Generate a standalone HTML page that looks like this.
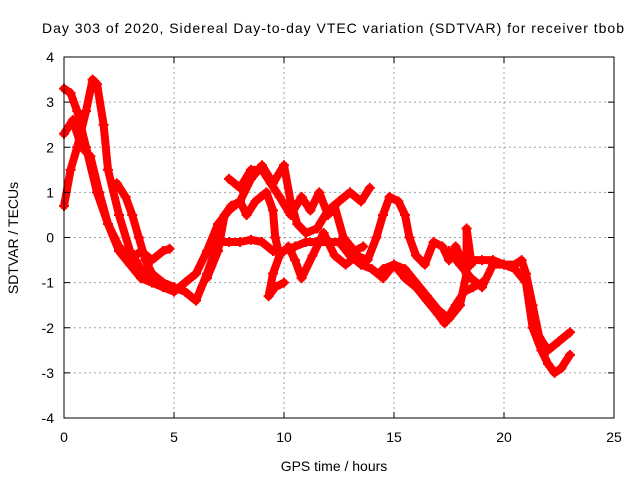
<!DOCTYPE html>
<html><head><meta charset="utf-8"><style>
body{margin:0;background:#fff}
svg{font-family:"Liberation Sans",sans-serif;display:block}
</style></head><body>
<svg id="chart" width="640" height="480">
<text x="42" y="33" font-size="14" textLength="582" lengthAdjust="spacing">Day 303 of 2020, Sidereal Day-to-day VTEC variation (SDTVAR) for receiver tbob</text>
<text x="334" y="471" font-size="14" text-anchor="middle">GPS time / hours</text>
<text transform="translate(18,238) rotate(-90)" font-size="14" text-anchor="middle">SDTVAR / TECUs</text>
<g id="grid"></g><g id="marks"></g><g id="axes"></g>
</svg>
<script>
const xTicks=[0,5,10,15,20,25];
const yTicks=[-4,-3,-2,-1,0,1,2,3,4];
const t1=[0,0.3,0.6,1.0,1.5,2.0,2.5,3.0,3.5,4.0,4.5,5.0,5.5,6.0,6.5,7.0,7.5,8.0,8.5,9.0,9.5,10.0,10.3,10.6,11.0,11.5,12.0,12.5,13.0,13.5,13.9];
const v1=[3.3,3.2,2.8,2.0,1.0,0.3,-0.3,-0.6,-0.9,-1.0,-1.1,-1.2,-1.0,-0.8,-0.3,0.3,0.6,0.8,1.3,1.6,1.2,1.6,0.8,0.3,0.1,0.2,0.6,0.8,1.0,0.8,1.1];
const t2=[0,0.3,0.6,1.0,1.3,1.5,1.8,2.0,2.5,3.0,3.5,4.0,4.5,5.0,5.5,6.0,6.5,7.0,7.5,8.0,8.5,9.0,9.5,10.0,10.5,11.0,11.5,12.0,12.5,13.0,13.5,14.0,14.5,15.0,15.5,16.0,16.5,17.0,17.3,17.8,18.2,18.6,19.0];
const v2=[0.7,1.5,2.0,2.8,3.5,3.4,2.5,1.5,0.5,-0.3,-0.7,-0.9,-1.0,-1.1,-1.2,-1.4,-0.8,-0.1,-0.1,-0.1,-0.05,-0.1,-0.3,-0.3,-0.2,-0.1,-0.1,-0.1,-0.1,-0.4,-0.6,-0.7,-0.9,-0.6,-0.9,-1.1,-1.4,-1.7,-1.9,-1.5,-1.2,-1.1,-1.0];
const t3=[0,0.4,0.8,1.2,1.6,2.0,2.5,3.0,3.5,4.0,4.5,4.8];
const v3=[2.3,2.6,2.0,1.8,1.0,0.3,-0.2,-0.5,-0.3,-0.5,-0.3,-0.25];
const t4=[2.4,2.8,3.1,3.4,3.7,4.0,4.5];
const v4=[1.2,0.9,0.5,0.0,-0.5,-0.8,-1.0];
const t5=[6.5,7.0,7.3,7.6,8.0,8.3,8.7,9.2,9.5,9.6,9.8,9.5,9.3,9.6,10.0];
const v5=[-0.9,-0.3,0.5,0.7,0.8,0.5,0.8,1.0,0.6,0.0,-0.4,-0.8,-1.3,-1.1,-1.0];
const t6=[7.5,8.0,8.5,9.0,9.4,9.8,10.3,10.8,11.2,11.6,12.0,12.3,12.7,13.2,13.6];
const v6=[1.3,1.1,1.5,1.5,1.2,0.9,0.5,0.9,0.6,1.0,0.5,0.7,0.0,-0.3,-0.2];
const t7=[10.2,10.5,10.8,11.3,11.8,12.3,12.8,13.3,13.8,14.2,14.5,14.8,15.2,15.5,15.7,16.0,16.4,16.8,17.2,17.5,17.8,18.2,18.5];
const v7=[-0.2,-0.5,-0.9,-0.4,0.1,-0.4,-0.6,-0.4,-0.5,0.0,0.5,0.9,0.8,0.5,0.0,-0.4,-0.6,-0.1,-0.2,-0.5,-0.2,-0.6,-0.6];
const t8=[14.5,15.0,15.5,16.0,16.5,17.0,17.5,18.0,18.3,18.3,18.5,19.0,19.5,20.0,20.5,20.8,21.0,21.3,21.6,22.0,22.5,23.0];
const v8=[-0.7,-0.6,-0.7,-1.0,-1.3,-1.6,-1.8,-1.5,-0.8,0.2,-0.5,-0.5,-0.5,-0.6,-0.6,-0.5,-0.8,-1.5,-2.2,-2.5,-2.3,-2.1];
const t9=[17.5,18.0,18.5,19.0,19.5,20.0,20.5,21.0,21.3,21.7,22.0,22.3,22.6,23.0];
const v9=[-0.3,-0.6,-0.9,-1.1,-0.6,-0.6,-0.7,-1.0,-2.0,-2.5,-2.8,-3.0,-2.9,-2.6];
const tracks=[[t1,v1],[t2,v2],[t3,v3],[t4,v4],[t5,v5],[t6,v6],[t7,v7],[t8,v8],[t9,v9]];
const X0=64,X1=614,Y0=418,Y1=57;
const xs=t=>X0+(t-0)/25*(X1-X0);
const ys=v=>Y0-(v+4)/8*(Y0-Y1);
const NS="http://www.w3.org/2000/svg";
function mk(tag,parent,attrs){const e=document.createElementNS(NS,tag);for(const k in attrs)e.setAttribute(k,attrs[k]);parent.appendChild(e);return e;}
const grid=document.getElementById('grid'),marks=document.getElementById('marks'),axes=document.getElementById('axes');
xTicks.forEach(t=>{const x=xs(t);
 if(t>0&&t<25){const g=mk('line',grid,{x1:x,x2:x,y1:Y1,y2:Y0,stroke:'#a0a0a0','stroke-dasharray':'2,3'});
 
 }
 mk('line',axes,{x1:x,x2:x,y1:Y0,y2:Y0-6,stroke:'#000'});
 mk('line',axes,{x1:x,x2:x,y1:Y1,y2:Y1+6,stroke:'#000'});
 const l=mk('text',axes,{x:x,y:Y0+24,'font-size':14,'text-anchor':'middle'});l.textContent=t;
 
 
});
yTicks.forEach(v=>{const y=ys(v);
 if(v>-4&&v<4){const g=mk('line',grid,{x1:X0,x2:X1,y1:y,y2:y,stroke:'#a0a0a0','stroke-dasharray':'2,3'});
 
 }
 mk('line',axes,{x1:X0,x2:X0+6,y1:y,y2:y,stroke:'#000'});
 mk('line',axes,{x1:X1,x2:X1-6,y1:y,y2:y,stroke:'#000'});
 const l=mk('text',axes,{x:X0-10,y:y+5,'font-size':14,'text-anchor':'end'});l.textContent=v;
 
 
});
const frame=mk('rect',axes,{x:X0,y:Y1,width:X1-X0,height:Y0-Y1,fill:'none',stroke:'#000'});


tracks.forEach(([ts,vs])=>{
 const pts=ts.map((t,i)=>xs(t)+','+ys(vs[i])).join(' ');
 const pl=mk('polyline',marks,{points:pts,fill:'none',stroke:'#ff0000','stroke-width':8,'stroke-linejoin':'round','stroke-linecap':'round'});
 
 
 ts.forEach((t,i)=>{const x=xs(t),y=ys(vs[i]);
  const p=mk('path',marks,{d:`M${x-5},${y}h10M${x},${y-5}v10`,stroke:'#ff0000','stroke-width':2});
  
  
 });
});
</script>
</body></html>
